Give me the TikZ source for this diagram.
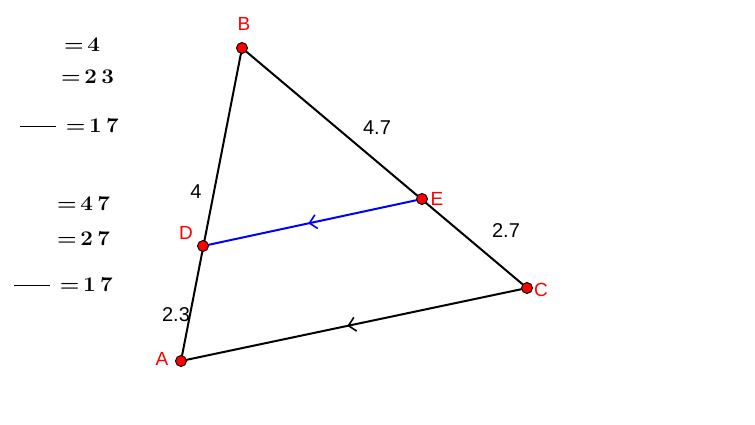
\documentclass[tikz,border=0pt]{standalone}
\usepackage{fontspec}
\setsansfont{Liberation Sans}
\usepackage{graphicx}
\usetikzlibrary{arrows.meta, positioning, decorations.markings, backgrounds}
\definecolor{PointRed}{RGB}{255,0,0}
\definecolor{SegBlue}{RGB}{0,0,255}
\tikzstyle{pt} = [circle, draw=black, fill=PointRed, line width=0.9pt, minimum size=11pt, inner sep=0pt]
\tikzstyle{ptlabel} = [PointRed, font=\sffamily\fontsize{19}{22}\selectfont, inner sep=0pt]
\tikzstyle{seglabel} = [black, font=\sffamily\fontsize{20}{23}\selectfont, inner sep=0pt]
\tikzstyle{eqn} = [anchor=base west, inner sep=0pt, font=\fontsize{20}{23}\selectfont\bfseries]
\tikzstyle{seg} = [line width=2pt, line cap=round]
\tikzstyle{midarrow} = [postaction={decorate}, decoration={markings,
    mark=at position 0.52 with {\arrow{Straight Barb[length=7pt, width=14pt, line width=1.6pt]}}}]
% stretched ratio text
\newcommand{\ratio}[1]{\scalebox{1.12}[1.04]{#1}}
\newcommand{\eqgap}{\hspace{0.16em}}
\newcommand{\digap}{\hspace{0.2em}}
\newcommand{\fracbar}{\rule[0.26em]{1.62em}{0.05em}\hspace{0.42em}}

\begin{document}
\begin{tikzpicture}[x=1pt, y=-1pt]
                    \useasboundingbox (0,0) rectangle (755,425);
                    % points of the triangle
                    \node[pt] (B) at (242,48) {};
                    \node[pt] (E) at (422,199) {};
                    \node[pt] (C) at (527,288) {};
                    \node[pt] (D) at (203,246) {};
                    \node[pt] (A) at (181,361) {};
                    \begin{scope}[on background layer]
                        \draw[seg] (A) -- (B);
                        \draw[seg] (B) -- (C);
                        \draw[seg, midarrow] (C) -- (A);
                        \draw[seg, SegBlue, midarrow] (E) -- (D);
                    \end{scope}
                    \node[ptlabel] (lblB) at (244,24) {B};
                    \node[ptlabel] (lblE) at (437,199) {E};
                    \node[ptlabel] (lblC) at (541,290) {C};
                    \node[ptlabel] (lblD) at (186,233) {D};
                    \node[ptlabel] (lblA) at (162,359) {A};
                    \node[seglabel] (lBE) at (377,128) {4.7};
                    \node[seglabel] (lEC) at (506,231) {2.7};
                    \node[seglabel] (lBD) at (196,192) {4};
                    \node[seglabel] (lDA) at (176,315) {2.3};
                    % ratios on the left
                    \node[eqn] (r1) at (64,52) {\ratio{=\eqgap 4}};
                    \node[eqn] (r2) at (61,84) {\ratio{=\eqgap 2\digap 3}};
                    \node[eqn] (r3) at (20,132.5) {\ratio{\fracbar=\eqgap 1\digap 7}};
                    \node[eqn] (r4) at (57,210) {\ratio{=\eqgap 4\digap 7}};
                    \node[eqn] (r5) at (57,245.5) {\ratio{=\eqgap 2\digap 7}};
                    \node[eqn] (r6) at (14,291.5) {\ratio{\fracbar=\eqgap 1\digap 7}};
                \end{tikzpicture}
\end{document}
